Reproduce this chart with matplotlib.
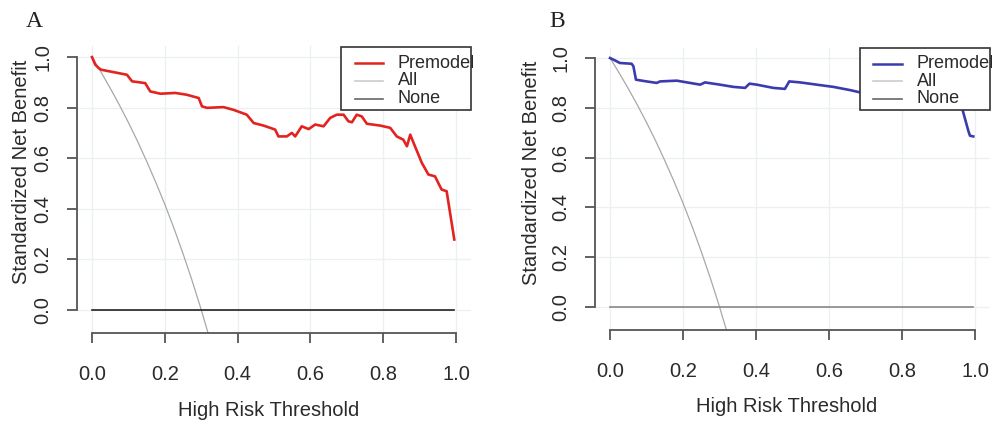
import matplotlib.pyplot as plt
from matplotlib.patches import Rectangle

plt.rcParams['font.family'] = ['Liberation Sans', 'DejaVu Sans']

# threshold grid for the "All" curve (same prevalence in both panels)
all_x = [0.0, 0.025, 0.05, 0.075, 0.1, 0.125, 0.15, 0.175, 0.2, 0.225,
         0.25, 0.275, 0.3, 0.325]
all_y = [1.0, 0.94, 0.877, 0.811, 0.741, 0.667, 0.588, 0.505, 0.417, 0.323,
         0.222, 0.115, 0.0, -0.123]

none_x = [0.0, 0.993]
none_y = [0.0, 0.0]

# panel A premodel
a_x = [0.0, 0.009, 0.018, 0.025, 0.05, 0.096, 0.11, 0.146, 0.16, 0.188,
       0.229, 0.26, 0.293, 0.302, 0.316, 0.361, 0.389, 0.425, 0.444, 0.471,
       0.503, 0.512, 0.535, 0.549, 0.558, 0.576, 0.595, 0.613, 0.636, 0.654,
       0.672, 0.691, 0.704, 0.714, 0.727, 0.741, 0.755, 0.791, 0.819, 0.837,
       0.855, 0.865, 0.874, 0.887, 0.906, 0.924, 0.942, 0.96, 0.974, 0.995]
a_y = [1.0, 0.97, 0.957, 0.95, 0.943, 0.93, 0.904, 0.897, 0.864, 0.855,
       0.858, 0.851, 0.838, 0.805, 0.799, 0.802, 0.791, 0.772, 0.739, 0.729,
       0.713, 0.686, 0.686, 0.7, 0.686, 0.726, 0.715, 0.733, 0.726, 0.759,
       0.772, 0.772, 0.746, 0.742, 0.772, 0.765, 0.736, 0.729, 0.72, 0.686,
       0.673, 0.647, 0.693, 0.647, 0.581, 0.535, 0.528, 0.476, 0.469, 0.278]

# panel B premodel
b_x = [0.0, 0.014, 0.027, 0.059, 0.064, 0.071, 0.1, 0.128, 0.137, 0.183,
       0.219, 0.247, 0.26, 0.301, 0.338, 0.37, 0.382, 0.402, 0.447, 0.479,
       0.491, 0.521, 0.566, 0.612, 0.658, 0.685, 0.75, 0.85, 0.93, 0.955,
       0.963, 0.982, 0.986, 0.995]
b_y = [1.0, 0.99, 0.98, 0.977, 0.967, 0.913, 0.906, 0.9, 0.906, 0.909,
       0.9, 0.893, 0.902, 0.893, 0.884, 0.88, 0.897, 0.893, 0.88, 0.876,
       0.906, 0.902, 0.893, 0.884, 0.871, 0.862, 0.855, 0.84, 0.83, 0.82,
       0.806, 0.705, 0.688, 0.685]

ticks = [0.0, 0.2, 0.4, 0.6, 0.8, 1.0]
tick_labels = ['0.0', '0.2', '0.4', '0.6', '0.8', '1.0']
legend_labels = ['Premodel', 'All', 'None']

fig = plt.figure(figsize=(10.07, 4.22), dpi=100)
axA = fig.add_axes([0.0769, 0.2109, 0.3905, 0.679])
axB = fig.add_axes([0.5913, 0.2183, 0.3915, 0.669])

fs = 14.5


def draw_panel(ax, xs, ys, color, none_color, letter, ylab_pos, xlab_pos):
    ax.set_xlim(-0.04, 1.04)
    ax.set_ylim(-0.092, 1.042)
    for t in ticks:
        ax.axvline(t, color='#edf0f2', lw=1, zorder=0)
        ax.axhline(t, color='#edf0f2', lw=1, zorder=0)
    ax.plot(all_x, all_y, color='#a8a8a8', lw=0.9, zorder=2)
    ax.plot(none_x, none_y, color=none_color, lw=1.2, zorder=2)
    ax.plot(xs, ys, color=color, lw=1.9, zorder=3)

    for s in ['top', 'right']:
        ax.spines[s].set_visible(False)
    ax.spines['left'].set_bounds(0, 1)
    ax.spines['bottom'].set_bounds(0, 1)
    for s in ['left', 'bottom']:
        ax.spines[s].set_color('#555555')
        ax.spines[s].set_linewidth(1.3)
    ax.set_xticks(ticks)
    ax.set_xticklabels(tick_labels)
    ax.set_yticks(ticks)
    ax.set_yticklabels(tick_labels, rotation=90, va='center')
    ax.tick_params(axis='both', length=7, width=1.3, color='#555555',
                   labelsize=fs, labelcolor='#2a2a2a')
    ax.tick_params(axis='x', pad=16)
    ax.tick_params(axis='y', pad=11)

    ax.text(ylab_pos[0], ylab_pos[1], 'Standardized Net Benefit',
            transform=ax.transAxes, rotation=90, ha='center', va='center',
            fontsize=fs, color='#2a2a2a')
    ax.text(xlab_pos[0], xlab_pos[1], 'High Risk Threshold',
            transform=ax.transAxes, ha='center', va='center',
            fontsize=fs, color='#2a2a2a')

    # legend box, drawn in the R style with tight rows
    ax.add_patch(Rectangle((0.670, 0.778), 0.332, 0.219, transform=ax.transAxes,
                           facecolor='white', edgecolor='#333333', lw=1.2,
                           zorder=5, clip_on=False))
    rows = [0.942, 0.880, 0.818]
    handle_colors = [color, '#cccccc', '#666666']
    for r, hc, lab in zip(rows, handle_colors, legend_labels):
        ax.plot([0.705, 0.778], [r, r], transform=ax.transAxes, color=hc,
                lw=1.8 if lab == 'Premodel' else 1.2, zorder=6, clip_on=False)
        ax.text(0.815, r, lab, transform=ax.transAxes, ha='left', va='center',
                fontsize=13, color='#2a2a2a', zorder=7, clip_on=False)

    ax.text(letter[1], letter[2], letter[0], transform=fig.transFigure,
            family=['Liberation Serif', 'DejaVu Serif'], fontsize=17,
            ha='left', va='center', color='#222222')


draw_panel(axA, a_x, a_y, '#e3231f', '#222222', ('A', 0.026, 0.948),
           (-0.142, 0.562), (0.487, -0.269))
draw_panel(axB, b_x, b_y, '#3a3cae', '#888888', ('B', 0.546, 0.948),
           (-0.161, 0.557), (0.485, -0.272))

fig.savefig('out.png', dpi=100)
